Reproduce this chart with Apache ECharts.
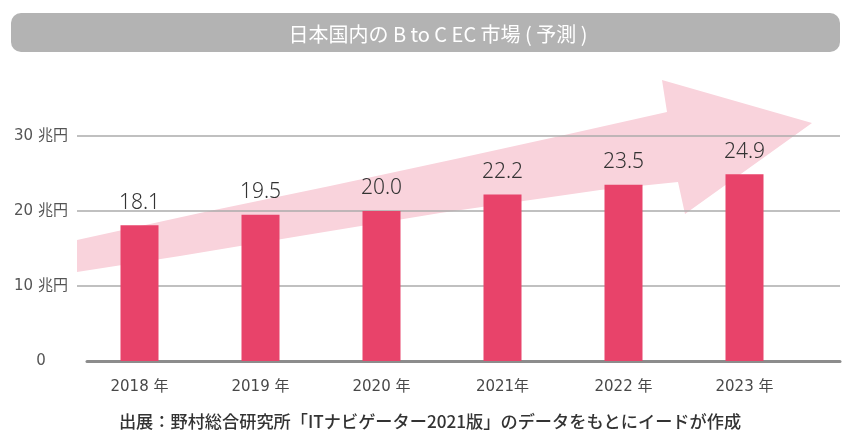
<!DOCTYPE html>
<html>
<head>
<meta charset="utf-8">
<script src="https://cdn.jsdelivr.net/npm/echarts@6/dist/echarts.min.js"></script>
<style>
  html, body { margin: 0; padding: 0; background: #fff; }
  #chart { width: 842px; height: 445px; }
</style>
</head>
<body>
<div id="chart"></div>
<script>
const years = ['2018 年', '2019 年', '2020 年', '2021年', '2022 年', '2023 年'];
const marketValues = [18.1, 19.5, 20.0, 22.2, 23.5, 24.9];
const yTicks = [0, 10, 20, 30];

const titleText = '日本国内の B to C EC 市場 ( 予測 )';
const sourceText = '出展：野村総合研究所「ITナビゲーター2021版」のデータをもとにイードが作成';

const jpFont = '"Noto Sans CJK JP", "Noto Sans", sans-serif';
const numFont = '"DejaVu Sans", "Noto Sans CJK JP", sans-serif';

// decorative background arrow (not data)
const arrowShape = [
    [77, 240], [200, 213], [330, 186], [460, 158], [560, 136], [667, 112],
    [662, 80], [812, 123], [685, 214], [678, 182],
    [600, 190], [440, 213], [300, 236], [180, 256], [77, 272]
];

const chart = echarts.init(document.getElementById('chart'));

const option = {
    animation: false,
    grid: [
        { left: 77, right: 2, top: 136, bottom: 84 },
        { left: 79, right: 37, top: 136, bottom: 84 },
        { left: 87, right: 2, top: 136, bottom: 84 }
    ],
    xAxis: [
        { gridIndex: 0, type: 'value', show: false },
        {
            gridIndex: 1,
            type: 'category',
            data: years,
            axisLine: { show: false },
            axisTick: { show: false },
            axisLabel: { color: '#484848', fontSize: 15, margin: 19, fontFamily: numFont }
        },
        {
            gridIndex: 2,
            type: 'value',
            axisLine: { show: true, lineStyle: { color: '#8c8c8c', width: 3 } },
            axisTick: { show: false },
            axisLabel: { show: false },
            splitLine: { show: false }
        }
    ],
    yAxis: [
        {
            gridIndex: 0,
            type: 'value',
            min: yTicks[0],
            max: yTicks[yTicks.length - 1],
            interval: 10,
            axisLine: { show: false },
            axisTick: { show: false },
            axisLabel: {
                color: '#555',
                fontSize: 15,
                fontFamily: numFont,
                align: 'center',
                margin: 36,
                formatter: v => (v === 0 ? '0' : v + ' 兆円')
            },
            splitLine: {
                lineStyle: { color: ['rgba(0,0,0,0)', '#ababab', '#ababab', '#ababab'], width: 1.5 }
            }
        },
        { gridIndex: 1, type: 'value', min: 0, max: 30, show: false },
        { gridIndex: 2, type: 'value', min: 0, max: 30, show: false }
    ],
    graphic: [
        {
            type: 'rect',
            z: -2,
            shape: { x: 11, y: 13, width: 829, height: 39, r: 10 },
            style: { fill: '#b3b3b3' }
        },
        {
            type: 'text',
            z: -1,
            x: 438,
            y: 34,
            style: {
                text: titleText,
                fill: '#fff',
                font: '20px ' + jpFont,
                textAlign: 'center',
                textVerticalAlign: 'middle'
            }
        },
        {
            type: 'polygon',
            z: -5,
            shape: { points: arrowShape },
            style: { fill: '#f9d3dc' }
        },
        {
            type: 'text',
            x: 430,
            y: 421,
            style: {
                text: sourceText,
                fill: '#333',
                font: '500 17.2px ' + jpFont,
                textAlign: 'center',
                textVerticalAlign: 'middle'
            }
        }
    ],
    series: [
        {
            type: 'bar',
            xAxisIndex: 1,
            yAxisIndex: 1,
            data: marketValues,
            barWidth: 38,
            itemStyle: { color: '#e8436a' },
            label: {
                show: true,
                position: 'top',
                distance: 12,
                color: '#333',
                fontSize: 21,
                fontWeight: 300,
                fontFamily: '"Noto Sans", sans-serif',
                formatter: p => p.value.toFixed(1)
            }
        }
    ]
};

chart.setOption(option);
</script>
</body>
</html>
